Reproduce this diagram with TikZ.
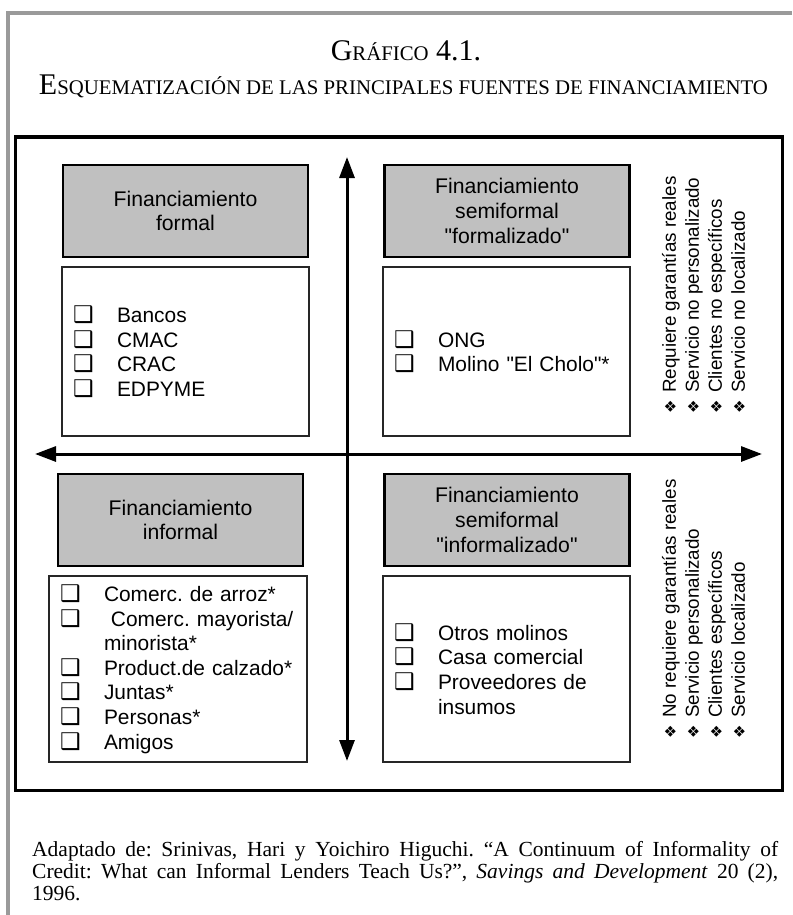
\documentclass[tikz,border=0pt]{standalone}
\usepackage{fontspec}
\setmainfont{Liberation Serif}
\newfontfamily\boxfont{Liberation Sans}
\newfontfamily\dingfont{DejaVu Sans}
\usetikzlibrary{arrows.meta}
\definecolor{boxgray}{HTML}{C0C0C0}
\definecolor{framegray}{HTML}{9A9A9A}
\newcommand{\ck}{\makebox[44pt][l]{\dingfont\fontsize{23}{20}\selectfont ❑}}
\newcommand{\dia}{\makebox[21pt][l]{\dingfont\fontsize{15}{12}\selectfont ❖}}
\newcommand{\titlecaps}{\fontsize{30}{32}\selectfont}
\newcommand{\titlesmall}{\fontsize{20.8}{32}\selectfont}
\frenchspacing

\begin{document}
\begin{tikzpicture}[x=1pt, y=-1pt,
      headbox/.style={draw, line width=2.6pt, fill=boxgray, minimum width=245pt,
        minimum height=92pt, align=center, font=\boxfont\fontsize{21.2}{24.8}\selectfont},
      listbox/.style={draw=black!85, line width=1.2pt, minimum height=169pt,
        text width=225pt, inner xsep=11pt, align=left,
        font=\boxfont\fontsize{20.9}{24.6}\selectfont},
      notes/.style={rotate=90, anchor=west, inner sep=0pt, align=left,
        font=\boxfont\fontsize{18.8}{23}\selectfont},
      axisline/.style={line width=3pt,
        {Triangle[length=21pt,width=15pt]}-{Triangle[length=21pt,width=15pt]}}
      ]
      \useasboundingbox (0,0) rectangle (792,915);
      \draw[framegray, line width=4pt] (792,13) -- (7.5,13) -- (7.5,915);
      \draw[line width=3pt] (15.5,137) rectangle (782,790);

      \node[anchor=base] (title) at (406,61)
        {{\titlecaps G}{\titlesmall RÁFICO}{\titlecaps\ 4.1.}};
      \node[anchor=base] (subtitle) at (403.5,95)
        {{\titlecaps E}{\titlesmall SQUEMATIZACIÓN DE LAS PRINCIPALES FUENTES DE FINANCIAMIENTO}};

      \coordinate (vtop) at (347,157);
      \coordinate (vbot) at (347,761);
      \coordinate (hleft) at (35,454);
      \coordinate (hright) at (762,454);
      \draw[axisline] (vtop) -- (vbot);
      \draw[axisline] (hleft) -- (hright);

      \node[headbox] (formal) at (185.5,211) {Financiamiento\\formal};
      \node[headbox] (semiF) at (507,211) {Financiamiento\\semiformal\\"formalizado"};
      \node[headbox] (informal) at (180.5,520) {Financiamiento\\informal};
      \node[headbox] (semiI) at (507,520) {Financiamiento\\semiformal\\"informalizado"};

      \node[listbox] (formalList) at (185.5,351.5)
        {\ck Bancos\\\ck CMAC\\\ck CRAC\\\ck EDPYME};
      \node[listbox] (semiFList) at (506.5,351.5)
        {\ck ONG\\\ck Molino "El Cholo"*};
      \node[listbox, minimum height=186pt, text width=236pt] (informalList) at (178,669)
        {\ck Comerc. de arroz*\\\ck\ Comerc. mayorista/\\\hspace*{44pt}minorista*\\
         \ck Product.de calzado*\\\ck Juntas*\\\ck Personas*\\\ck Amigos};
      \node[listbox, minimum height=186pt] (semiIList) at (506.5,669)
        {\ck Otros molinos\\\ck Casa comercial\\\ck Proveedores de\\\hspace*{44pt}insumos};

      \node[notes] (formalNotes) at (703.5,414)
        {\dia Requiere garantías reales\\\dia Servicio no personalizado\\
         \dia Clientes no específicos\\\dia Servicio no localizado};
      \node[notes] (informalNotes) at (703.5,739)
        {\dia No requiere garantías reales\\\dia Servicio personalizado\\
         \dia Clientes específicos\\\dia Servicio localizado};

      \node[anchor=base west, inner sep=0pt] (source) at (32,856)
        {\parbox[t]{746pt}{\fontsize{21.5}{22}\selectfont
         Adaptado de: Srinivas, Hari y Yoichiro Higuchi. “A Continuum of Informality of\linebreak
         Credit: What can Informal Lenders Teach Us?”, \textit{Savings and Development} 20 (2),\linebreak
         1996.}};
    \end{tikzpicture}
\end{document}
